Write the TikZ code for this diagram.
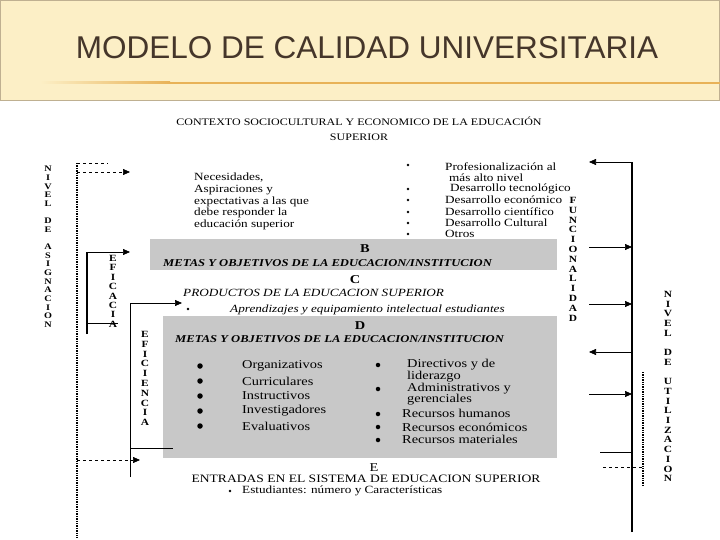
\documentclass[tikz,border=0pt]{standalone}
\usepackage{fontspec}
\setmainfont{Liberation Serif}[FakeStretch=1.2]
\newfontfamily\titlefont{Liberation Sans}
\usetikzlibrary{arrows.meta, positioning}
\definecolor{TitleBand}{HTML}{FCEFC6}
\definecolor{TitleEdge}{HTML}{BFB091}
\definecolor{TitleInk}{HTML}{45362A}
\definecolor{TitleRule}{HTML}{E8B257}
\definecolor{BoxGray}{HTML}{C8C8C8}

\begin{document}
\begin{tikzpicture}[
    x=1pt, y=-1pt,
    txt/.style={inner sep=0pt, anchor=west, font=\fontsize{11}{11.7}\selectfont},
    ital/.style={inner sep=0pt, anchor=west, font=\itshape\fontsize{11}{12}\selectfont},
    metas/.style={inner sep=0pt, anchor=west, font=\bfseries\itshape\fontsize{10.5}{12}\selectfont},
    item/.style={inner sep=0pt, anchor=west, font=\fontsize{12}{12}\selectfont},
    lab/.style={inner sep=0pt, font=\bfseries\fontsize{12}{12}\selectfont},
    vword/.style={inner sep=0pt, anchor=north, align=center, font=\bfseries\fontsize{9.5}{#1}\selectfont},
    dot/.style={circle, fill=black, inner sep=0pt, minimum size=2.6pt},
    bigdot/.style={circle, fill=black, inner sep=0pt, minimum size=5.5pt},
    grid/.style={fill=BoxGray, inner sep=0pt},
    arr/.style={-{Triangle[length=7pt, width=6pt]}, line width=0.7pt},
    dasharr/.style={-{Triangle[length=7pt, width=6pt]}, dashed, line width=0.7pt},
    bar/.style={line width=1.6pt},
    dots/.style={densely dotted, line width=1.4pt}
  ]
    \useasboundingbox (0,0) rectangle (720,540);
    \fill[white] (0,0) rectangle (720,540);
    \filldraw[fill=TitleBand, draw=TitleEdge, line width=0.6pt] (0.3,0.3) rectangle (719.7,100);
    \shade[left color=TitleBand, right color=TitleRule] (40,82) rectangle (170,84);
    \fill[TitleRule] (170,82) rectangle (719.7,84);
    \node[font=\titlefont\fontsize{31.5}{31.5}\selectfont, text=TitleInk] (title) at (367,48) {MODELO DE CALIDAD UNIVERSITARIA};

    \node[grid, minimum width=407pt, minimum height=31pt] (boxB) at (353.5,254.5) {};
    \node[grid, minimum width=394pt, minimum height=142pt] (boxD) at (360,387) {};

    \node[txt, anchor=center, font=\fontsize{10}{11}\selectfont] (ctx) at (359,121) {CONTEXTO SOCIOCULTURAL Y ECONOMICO DE LA EDUCACIÓN};
    \node[txt, anchor=center, font=\fontsize{10}{11}\selectfont] (ctx2) at (359,137) {SUPERIOR};
    \node[txt, anchor=north west, align=left] (needs) at (194,173) {Necesidades,\\Aspiraciones y\\expectativas a las que\\debe responder la\\educación superior};

    \node[dot] (f1) at (408,165) {};
    \node[txt] (fun1) at (445,167) {Profesionalización al};
    \node[txt] (fun1b) at (449,178) {más alto nivel};
    \node[dot] (f2) at (408,189) {};
    \node[txt] (fun2) at (450,189) {Desarrollo tecnológico};
    \node[dot] (f3) at (408,200) {};
    \node[txt] (fun3) at (445,200) {Desarrollo económico};
    \node[dot] (f4) at (408,212) {};
    \node[txt] (fun4) at (445,212) {Desarrollo científico};
    \node[dot] (f5) at (408,223) {};
    \node[txt] (fun5) at (445,223) {Desarrollo Cultural};
    \node[dot] (f6) at (408,234) {};
    \node[txt] (fun6) at (445,234) {Otros};

    \node[lab] (labB) at (365,249) {B};
    \node[metas] (metasB) at (163,263) {METAS Y OBJETIVOS DE LA EDUCACION/INSTITUCION};

    \node[lab] (labC) at (355,280) {C};
    \node[ital] (prod) at (183,293) {PRODUCTOS DE LA EDUCACION SUPERIOR};
    \node[dot] (c1) at (188,309) {};
    \node[ital] (aprend) at (230,310) {Aprendizajes y equipamiento intelectual estudiantes};

    \node[lab] (labD) at (360,326) {D};
    \node[metas] (metasD) at (175,339) {METAS Y OBJETIVOS DE LA EDUCACION/INSTITUCION};
    \node[bigdot] (d1) at (200,366) {};
    \node[item] (org) at (242,366) {Organizativos};
    \node[bigdot] (d2) at (200,381) {};
    \node[item] (cur) at (242,381) {Curriculares};
    \node[bigdot] (d3) at (200,396) {};
    \node[item] (ins) at (242,396) {Instructivos};
    \node[bigdot] (d4) at (200,411) {};
    \node[item] (inv) at (242,411) {Investigadores};
    \node[bigdot] (d5) at (200,426) {};
    \node[item] (eva) at (242,426) {Evaluativos};
    \node[bigdot, minimum size=4.5pt] (r1) at (378,365) {};
    \node[item] (dir) at (407,365) {Directivos y de};
    \node[item] (lid) at (407,377) {liderazgo};
    \node[bigdot, minimum size=4.5pt] (r2) at (378,389) {};
    \node[item] (adm) at (407,389) {Administrativos y};
    \node[item] (ger) at (407,400) {gerenciales};
    \node[bigdot, minimum size=4.5pt] (r3) at (378,414) {};
    \node[item] (rhum) at (402,413) {Recursos humanos};
    \node[bigdot, minimum size=4.5pt] (r4) at (378,427) {};
    \node[item] (reco) at (402,427) {Recursos económicos};
    \node[bigdot, minimum size=4.5pt] (r5) at (378,440) {};
    \node[item] (rmat) at (402,439) {Recursos materiales};

    \node[lab, font=\fontsize{12}{12}\selectfont] (labE) at (374,468) {E};
    \node[txt, anchor=center, font=\fontsize{11.3}{12}\selectfont] (entr) at (366,479) {ENTRADAS EN EL SISTEMA DE EDUCACION SUPERIOR};
    \node[dot] (e1) at (230,491) {};
    \node[txt] (est) at (242,491) {Estudiantes: número y Características};

    \node[vword=8.65, font=\bfseries\fontsize{8.5}{8.65}\selectfont] (asig) at (48,166) {N\\I\\V\\E\\L\\[8.65pt]D\\E\\[8.65pt]A\\S\\I\\G\\N\\A\\C\\I\\O\\N};
    \node[vword=9.4] (efa) at (113,255) {E\\F\\I\\C\\A\\C\\I\\A};
    \node[vword=9.8] (efi) at (145,331) {E\\F\\I\\C\\I\\E\\N\\C\\I\\A};
    \node[vword=9.8] (func) at (573,197) {F\\U\\N\\C\\I\\O\\N\\A\\L\\I\\D\\A\\D};
    \node[vword=9.7] (util) at (668,291) {N\\I\\V\\E\\L\\[9.7pt]D\\E\\[9.7pt]U\\T\\I\\L\\I\\Z\\A\\C\\I\\O\\N};

    \coordinate (asg-top) at (77,163);
    \coordinate (asg-bot) at (77,538);
    \coordinate (asg-cap) at (108,163);
    \coordinate (asg-a) at (77,172);
    \coordinate (asg-atip) at (130,172);
    \coordinate (asg-b) at (77,460);
    \coordinate (asg-btip) at (140,460);
    \draw[dots] (asg-top) -- (asg-bot);
    \draw[dashed, line width=0.7pt] (asg-top) -- (asg-cap);
    \draw[dasharr] (asg-a) -- (asg-atip);
    \draw[dasharr] (asg-b) -- (asg-btip);

    \coordinate (efa-top) at (87,252);
    \coordinate (efa-tip) at (130,252);
    \coordinate (efa-bot) at (87,334);
    \coordinate (efa-foot) at (87,323);
    \coordinate (efa-end) at (118,323);
    \draw[bar] (efa-bot) -- (efa-top);
    \draw[arr] (efa-top) -- (efa-tip);
    \draw[line width=0.7pt] (efa-foot) -- (efa-end);

    \coordinate (efi-top) at (130,303);
    \coordinate (efi-tip) at (182,303);
    \coordinate (efi-bot) at (130,477);
    \coordinate (efi-foot) at (130,448);
    \coordinate (efi-end) at (173,448);
    \draw[line width=0.7pt] (efi-bot) -- (efi-top);
    \draw[arr] (efi-top) -- (efi-tip);
    \draw[line width=0.7pt] (efi-foot) -- (efi-end);

    \coordinate (utl-top) at (632,162);
    \coordinate (utl-bot) at (632,532);
    \coordinate (utl-out1) at (589,162);
    \coordinate (utl-in1) at (589,247);
    \coordinate (utl-at1) at (632,247);
    \coordinate (utl-in2) at (589,304);
    \coordinate (utl-at2) at (632,304);
    \coordinate (utl-from3) at (632,352);
    \coordinate (utl-out3) at (589,352);
    \coordinate (utl-in4) at (589,394);
    \coordinate (utl-at4) at (632,394);
    \coordinate (utl-l5) at (600,452);
    \coordinate (utl-at5) at (632,452);
    \coordinate (utl-d6) at (603,467);
    \coordinate (utl-at6) at (643,467);
    \coordinate (utl-dtop) at (643,372);
    \coordinate (utl-dbot) at (643,485);
    \draw[bar] (utl-bot) -- (utl-top);
    \draw[arr] (utl-top) -- (utl-out1);
    \draw[arr] (utl-in1) -- (utl-at1);
    \draw[arr] (utl-in2) -- (utl-at2);
    \draw[arr] (utl-from3) -- (utl-out3);
    \draw[arr] (utl-in4) -- (utl-at4);
    \draw[line width=0.7pt] (utl-l5) -- (utl-at5);
    \draw[dashed, line width=0.7pt] (utl-d6) -- (utl-at6);
    \draw[dots] (utl-dtop) -- (utl-dbot);
  \end{tikzpicture}
\end{document}
